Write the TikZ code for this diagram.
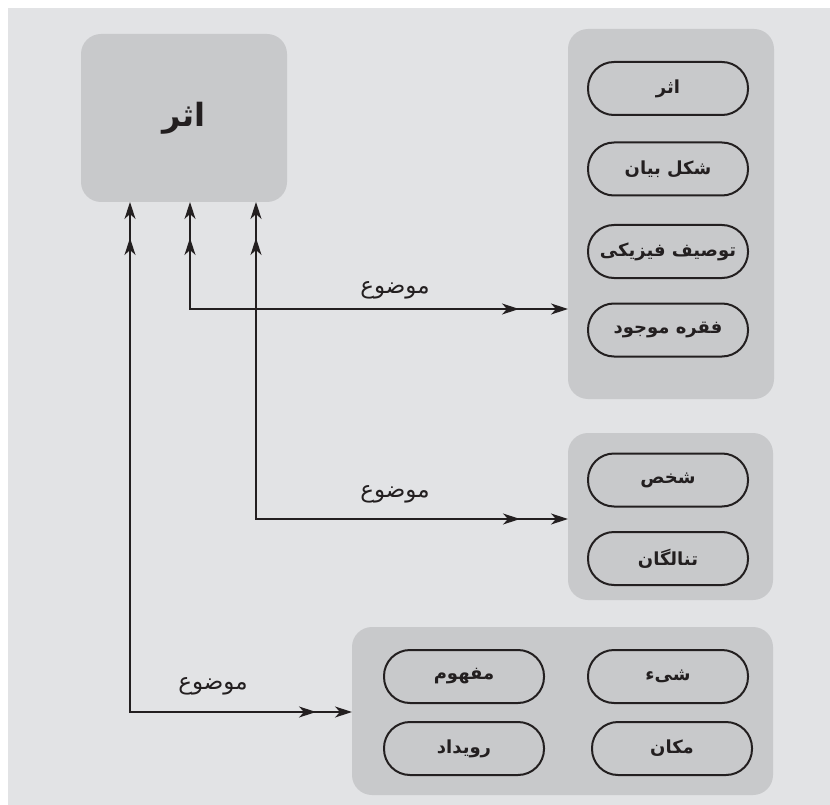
\documentclass[tikz,border=0pt]{standalone}
\usepackage{fontspec}
\setmainfont{DejaVu Sans}
\newfontfamily\fa[Script=Arabic]{DejaVu Sans}
\TeXXeTstate=1
\usetikzlibrary{arrows.meta,decorations.markings}
\definecolor{bgc}{HTML}{E2E3E5}
\definecolor{boxc}{HTML}{C8C9CB}
\definecolor{inkc}{HTML}{231F20}
\tikzset{
  grp/.style={fill=boxc, rounded corners=20pt, inner sep=0pt, outer sep=0pt},
  mainbox/.style={grp, font=\fa\bfseries\fontsize{32}{36}\selectfont, text=inkc},
  pill/.style={draw=inkc, line width=2pt, rounded corners=26pt, minimum width=160pt,
    minimum height=53pt, inner sep=0pt, font=\fa\bfseries\fontsize{18}{22}\selectfont, text=inkc},
  lbl/.style={font=\fa\fontsize{23}{27}\selectfont, text=inkc, inner sep=0pt},
  mytip/.tip={Stealth[length=17pt,width=11pt,inset=5pt]},
  conn/.style={draw=inkc, line width=1.2pt, {mytip}-{mytip}},
  midarrows/.style 2 args={postaction={decorate, decoration={markings,
    mark=at position #1 with {\arrowreversed{mytip}},
    mark=at position #2 with {\arrow{mytip}}}}},
}
\begin{document}
\begin{tikzpicture}[x=1pt,y=-1pt]
\useasboundingbox (0,0) rectangle (830,805);
\fill[bgc] (8,8) rectangle (830,805);

\node[mainbox, minimum width=206pt, minimum height=168pt] (m) at (184,118) {\beginR اثر\endR};

\node[grp, minimum width=206pt, minimum height=370pt] (g1) at (671,214) {};
\node[grp, minimum width=205pt, minimum height=167pt] (g2) at (670.5,516.5) {};
\node[grp, minimum width=421pt, minimum height=168pt] (g3) at (562.5,711) {};

\node[pill] (a1) at (668,88.5) {\beginR اثر\endR};
\node[pill] (a2) at (668,169) {\beginR شکل بیان\endR};
\node[pill] (a3) at (668,251.5) {\beginR توصیف فیزیکی\endR};
\node[pill] (a4) at (668,330) {\beginR فقره موجود\endR};

\node[pill] (b1) at (668,480) {\beginR شخص\endR};
\node[pill] (b2) at (668,558.5) {\beginR تنالگان\endR};

\node[pill] (c1) at (668,676.5) {\beginR شیء\endR};
\node[pill] (c2) at (672,748.5) {\beginR مکان\endR};
\node[pill] (c3) at (464,676.5) {\beginR مفهوم\endR};
\node[pill] (c4) at (464,748.5) {\beginR رویداد\endR};

\draw[conn, midarrows={36pt}{-49pt}] ([xshift=6pt]m.south) |- ([yshift=-95pt]g1.west);
\draw[conn, midarrows={36pt}{-48pt}] ([xshift=72pt]m.south) |- ([yshift=-2.5pt]g2.west);
\draw[conn, midarrows={36pt}{-36pt}] ([xshift=-54pt]m.south) |- ([yshift=-1pt]g3.west);

\node[lbl] (l1) at (395,290) {\beginR موضوع\endR};
\node[lbl] (l2) at (395,494) {\beginR موضوع\endR};
\node[lbl] (l3) at (213,686) {\beginR موضوع\endR};
\end{tikzpicture}
\end{document}
